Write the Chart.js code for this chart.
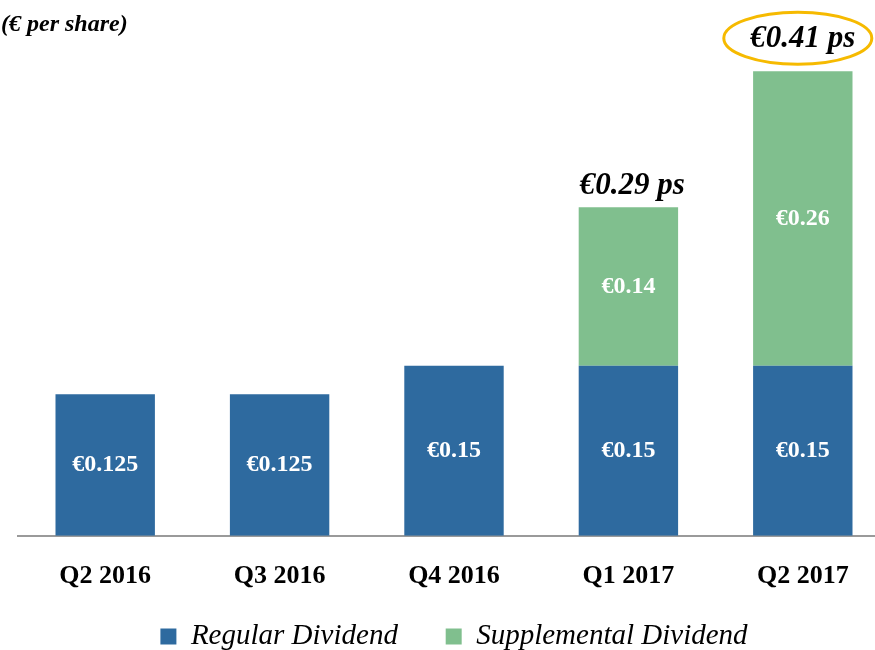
<!DOCTYPE html>
<html>
<head>
<meta charset="utf-8">
<script src="https://cdn.jsdelivr.net/npm/chart.js@4/dist/chart.umd.min.js"></script>
<style>
  html, body { margin: 0; padding: 0; background: #fff; overflow: hidden; }
  #wrap { width: 890px; height: 650px; }
</style>
</head>
<body>
<div id="wrap"><canvas id="chart" width="890" height="650"></canvas></div>
<script>
  const quarters = ["Q2 2016", "Q3 2016", "Q4 2016", "Q1 2017", "Q2 2017"];
  const regularDividend = [0.125, 0.125, 0.15, 0.15, 0.15];
  const supplementalDividend = [0, 0, 0, 0.14, 0.26];
  const highlightIndex = 4;

  const SERIF = "'Liberation Serif', 'DejaVu Serif', serif";
  const BLUE = "#2E6A9F";
  const GREEN = "#80BF8E";

  // labels inside bars, totals on top, the ellipse and the unit note
  const labelsPlugin = {
    id: "labels",
    afterDatasetsDraw(chart) {
      const ctx = chart.ctx;
      ctx.save();
      ctx.textAlign = "center";
      ctx.textBaseline = "middle";
      ctx.fillStyle = "#fff";
      ctx.font = "bold 24px " + SERIF;
      chart.data.datasets.forEach((ds, di) => {
        const meta = chart.getDatasetMeta(di);
        meta.data.forEach((bar, i) => {
          const v = ds.data[i];
          if (!v) return;
          ctx.fillText("€" + String(v), bar.x, (bar.y + bar.base) / 2);
        });
      });

      const top = chart.getDatasetMeta(1);
      ctx.fillStyle = "#000";
      ctx.font = "italic bold 31px " + SERIF;
      top.data.forEach((bar, i) => {
        if (!supplementalDividend[i]) return;
        const total = regularDividend[i] + supplementalDividend[i];
        const hl = i === highlightIndex;
        const y = bar.y - (hl ? 32 : 21);
        ctx.fillText("€" + total.toFixed(2) + " ps", bar.x + (hl ? 0 : 4), y);
        if (hl) {
          ctx.beginPath();
          ctx.ellipse(bar.x - 5, y - 1, 74, 26, 0, 0, Math.PI * 2);
          ctx.strokeStyle = "#F6BA00";
          ctx.lineWidth = 3;
          ctx.stroke();
        }
      });

      ctx.textAlign = "left";
      ctx.font = "italic bold 24px " + SERIF;
      ctx.fillText("(€ per share)", 1, 25);
      ctx.restore();
    }
  };

  new Chart(document.getElementById("chart"), {
    type: "bar",
    data: {
      labels: quarters,
      datasets: [
        { label: "Regular Dividend", data: regularDividend, backgroundColor: BLUE,
          barPercentage: 0.57, categoryPercentage: 1 },
        { label: "Supplemental Dividend", data: supplementalDividend, backgroundColor: GREEN,
          barPercentage: 0.57, categoryPercentage: 1 },
      ],
    },
    options: {
      responsive: false,
      animation: false,
      layout: { padding: { left: 18, right: 0, top: 26, bottom: -11 } },
      scales: {
        x: {
          stacked: true,
          grid: { display: false },
          border: { color: "#9A9A9A", width: 2 },
          ticks: { color: "#000", font: { family: SERIF, size: 26, weight: "bold" }, padding: 17 },
        },
        y: {
          stacked: true,
          display: false,
          min: 0,
          max: 0.45,
        },
      },
      plugins: {
        legend: {
          position: "bottom",
          labels: {
            color: "#000",
            boxWidth: 16,
            boxHeight: 16,
            padding: 13,
            font: { family: SERIF, size: 29, style: "italic" },
            generateLabels(chart) {
              const items = Chart.defaults.plugins.legend.labels.generateLabels(chart);
              // wider gap between the two entries, as in the original
              items[0].text += "\u2003\u2009";
              return items;
            },
          },
        },
        tooltip: { enabled: false },
      },
    },
    plugins: [labelsPlugin],
  });
</script>
</body>
</html>
